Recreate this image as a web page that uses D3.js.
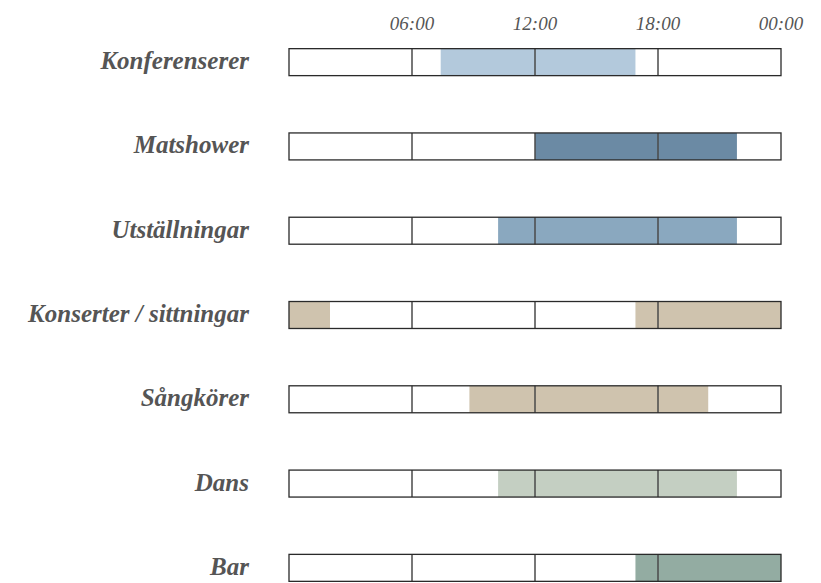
<!DOCTYPE html>
<html>
<head>
<meta charset="utf-8">
<script src="https://cdn.jsdelivr.net/npm/d3@7"></script>
<style>
  body { margin: 0; background: #fff; }
  svg { display: block; }
</style>
</head>
<body>
<svg id="chart" width="821" height="583"></svg>
<script>
// activities and their open hours (decimal hours, 0-24)
var categories = ["Konferenserer", "Matshower", "Utställningar", "Konserter / sittningar", "Sångkörer", "Dans", "Bar"];
var spans = [
    [[7.4, 16.9]],
    [[12, 21.85]],
    [[10.2, 21.85]],
    [[0, 2], [16.9, 24]],
    [[8.8, 20.45]],
    [[10.2, 21.85]],
    [[16.9, 24]]
];
var colors = ["#b3c9dc", "#6b8aa4", "#8aa8bf", "#cfc3ae", "#cfc3ae", "#c4cfc2", "#93aca2"];
var tickHours = [6, 12, 18, 24];
var tickLabels = ["06:00", "12:00", "18:00", "00:00"];

var svg = d3.select("#chart");

var x = d3.scaleLinear().domain([0, 24]).range([289, 781]);
var y = d3.scaleBand().domain(categories).range([20, 610]).paddingInner(0.68).paddingOuter(0.34);

// time labels on top
svg.selectAll(".tlabel")
    .data(tickHours)
    .enter().append("text")
    .attr("class", "tlabel")
    .attr("x", d => x(d))
    .attr("y", 30)
    .attr("text-anchor", "middle")
    .attr("fill", "#555")
    .attr("font-family", "'Liberation Serif', 'DejaVu Serif', serif")
    .attr("font-style", "italic")
    .attr("font-size", "19px")
    .text((d, i) => tickLabels[i]);

var rows = svg.selectAll(".row")
    .data(categories)
    .enter().append("g")
    .attr("class", "row")
    .attr("transform", d => "translate(0," + y(d) + ")");

rows.append("rect")
    .attr("x", x(0))
    .attr("width", x(24) - x(0))
    .attr("height", y.bandwidth())
    .attr("fill", "#fff");

rows.each(function(d, i) {
    d3.select(this).selectAll(".span")
        .data(spans[i])
        .enter().append("rect")
        .attr("class", "span")
        .attr("x", s => x(s[0]))
        .attr("width", s => x(s[1]) - x(s[0]))
        .attr("height", y.bandwidth())
        .attr("fill", colors[i]);
});

rows.selectAll(".grid")
    .data([6, 12, 18])
    .enter().append("line")
    .attr("class", "grid")
    .attr("x1", d => x(d))
    .attr("x2", d => x(d))
    .attr("y1", 0)
    .attr("y2", y.bandwidth())
    .attr("stroke", "#4a4a4a")
    .attr("stroke-width", 1.5);

rows.append("rect")
    .attr("x", x(0))
    .attr("width", x(24) - x(0))
    .attr("height", y.bandwidth())
    .attr("fill", "none")
    .attr("stroke", "#2a2a2a")
    .attr("stroke-width", 1.3);

rows.append("text")
    .attr("x", 249)
    .attr("y", y.bandwidth() / 2)
    .attr("dy", "0.28em")
    .attr("text-anchor", "end")
    .attr("fill", "#555")
    .attr("font-family", "'Liberation Serif', 'DejaVu Serif', serif")
    .attr("font-style", "italic")
    .attr("font-weight", "bold")
    .attr("font-size", "25px")
    .text(d => d);
</script>
</body>
</html>
